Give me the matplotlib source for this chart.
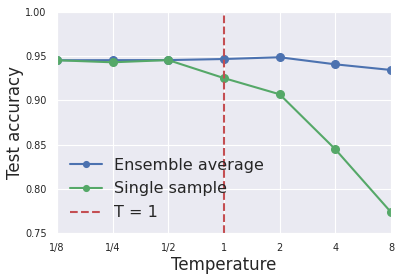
import matplotlib
matplotlib.use("Agg")
import matplotlib.pyplot as plt
import seaborn as sns

sns.set_style("darkgrid")
plt.rcParams['font.family'] = ['DejaVu Sans']

temps = [1/8, 1/4, 1/2, 1, 2, 4, 8]
tick_labels = ["1/8", "1/4", "1/2", "1", "2", "4", "8"]
ensemble = [0.9454, 0.9455, 0.9456, 0.9468, 0.9488, 0.9408, 0.9344]
single = [0.9454, 0.9431, 0.9456, 0.9252, 0.9069, 0.8447, 0.7735]

fig = plt.figure(figsize=(4.01, 2.79), dpi=100)
ax = fig.add_axes([0.142, 0.165, 0.833, 0.792])
ax.plot(temps, ensemble, marker='o', color='#4C72B0', lw=1.5, ms=5.5, label='Ensemble average')
ax.plot(temps, single, marker='o', color='#55A868', lw=1.5, ms=5.5, label='Single sample')
ax.axvline(1, color='#C44E52', ls='--', lw=1.5, label='T = 1')
ax.set_xscale('log', base=2)
ax.set_xticks(temps)
ax.set_xticklabels(tick_labels)
ax.minorticks_off()
ax.set_xlim(1/8, 8)
ax.set_ylim(0.75, 1.0)
ax.set_yticks([0.75, 0.80, 0.85, 0.90, 0.95, 1.00])
ax.set_yticklabels(["0.75", "0.80", "0.85", "0.90", "0.95", "1.00"])
ax.tick_params(labelsize=7, colors='#262626', pad=4)
ax.set_xlabel('Temperature', fontsize=12, color='#262626', labelpad=2)
ax.set_ylabel('Test accuracy', fontsize=12, color='#262626', labelpad=1)
ax.legend(loc='lower left', fontsize=11.5, frameon=False, borderaxespad=0.4,
          handlelength=2.0, labelspacing=0.55, markerscale=0.75)
fig.savefig('out.png', dpi=100)
